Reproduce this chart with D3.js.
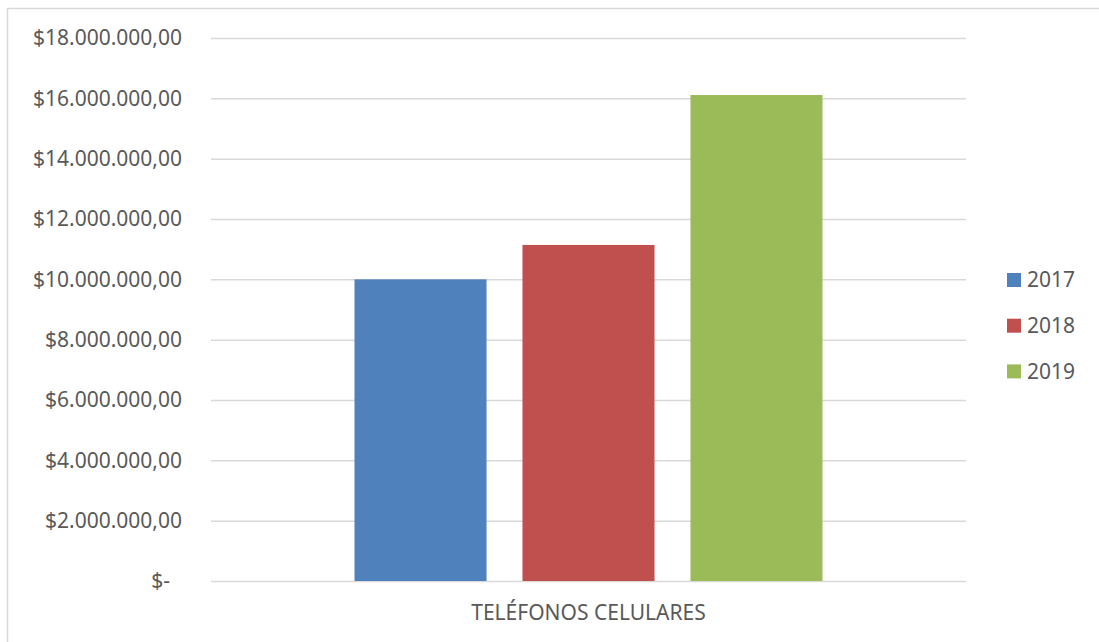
<!DOCTYPE html>
<html>
<head>
<meta charset="utf-8">
<script src="https://cdn.jsdelivr.net/npm/d3@7"></script>
<style>
    body { margin: 0; background: #fff; }
    text { font-family: "Noto Sans", "Open Sans", sans-serif; fill: #595959; }
    .grid line { stroke: #d9d9d9; stroke-width: 1.5; }
    .grid .domain { display: none; }
</style>
</head>
<body>
<div id="chart"></div>
<script>
(function () {
    "use strict";
    var categories = ["TELÉFONOS CELULARES"],
        years = ["2017", "2018", "2019"],
        values2017 = [10000000],
        values2018 = [11140000],
        values2019 = [16110000],
        yTicks = [0, 2000000, 4000000, 6000000, 8000000, 10000000, 12000000, 14000000, 16000000, 18000000],
        colors = ["#4f81bd", "#c0504d", "#9bbb59"],

        series = [values2017, values2018, values2019],
        widthGlobal = 1099,
        heightGlobal = 642,
        margin = {top: 38, right: 133, bottom: 61, left: 211},
        width = widthGlobal - margin.left - margin.right,
        height = heightGlobal - margin.top - margin.bottom,
        outerGap = 143.5,
        fontSize = 21,

        x0 = d3.scaleBand()
            .domain(categories)
            .range([0, width]),

        x1 = d3.scaleBand()
            .domain(years)
            .range([outerGap, width - outerGap])
            .paddingInner(0.214),

        y = d3.scaleLinear()
            .domain([0, 18000000])
            .range([height, 0]),

        es = d3.formatLocale({decimal: ",", thousands: ".", grouping: [3], currency: ["$", ""]}),
        fmt = es.format("$,.2f"),

        svg = d3.select("#chart").append("svg")
            .attr("width", widthGlobal)
            .attr("height", heightGlobal),

        chart;

    // chart frame (only top and left edges visible in the picture)
    svg.append("rect")
        .attr("x", 7.5)
        .attr("y", 8.5)
        .attr("width", widthGlobal + 20)
        .attr("height", heightGlobal + 20)
        .attr("fill", "none")
        .attr("stroke", "#d9d9d9")
        .attr("stroke-width", 1.5);

    chart = svg.append("g")
        .attr("transform", "translate(" + margin.left + "," + margin.top + ")");

    chart.append("g")
        .attr("class", "grid")
        .call(d3.axisLeft(y)
            .tickValues(yTicks)
            .tickSize(-width)
            .tickPadding(29)
            .tickFormat(function (d) { return d === 0 ? "$-" : fmt(d); }))
        .call(function (g) {
            g.selectAll("text")
                .attr("font-size", fontSize)
                .attr("dx", function (d) { return d === 0 ? -12 : 0; });
        })
        .attr("font-family", null);

    chart.append("g").selectAll("g")
        .data(categories)
        .enter().append("g")
        .attr("transform", function (d) { return "translate(" + x0(d) + ",0)"; })
        .selectAll("rect")
        .data(function (d, i) { return years.map(function (yr, j) { return {year: yr, value: series[j][i], color: colors[j]}; }); })
        .enter().append("rect")
        .attr("x", function (d) { return x1(d.year); })
        .attr("y", function (d) { return y(d.value); })
        .attr("width", x1.bandwidth())
        .attr("height", function (d) { return height - y(d.value); })
        .attr("fill", function (d) { return d.color; });

    chart.append("g").selectAll("text")
        .data(categories)
        .enter().append("text")
        .attr("x", function (d) { return x0(d) + x0.bandwidth() / 2; })
        .attr("y", height + 39)
        .attr("text-anchor", "middle")
        .attr("font-size", fontSize)
        .text(function (d) { return d; });

    var legend = svg.append("g")
        .attr("transform", "translate(1007,273)")
        .selectAll("g")
        .data(years)
        .enter().append("g")
        .attr("transform", function (d, i) { return "translate(0," + (i * 45.7) + ")"; });

    legend.append("rect")
        .attr("width", 14)
        .attr("height", 14)
        .attr("fill", function (d, i) { return colors[i]; });

    legend.append("text")
        .attr("x", 20)
        .attr("y", 7)
        .attr("dy", "0.35em")
        .attr("font-size", fontSize)
        .text(function (d) { return d; });
}());
</script>
</body>
</html>
